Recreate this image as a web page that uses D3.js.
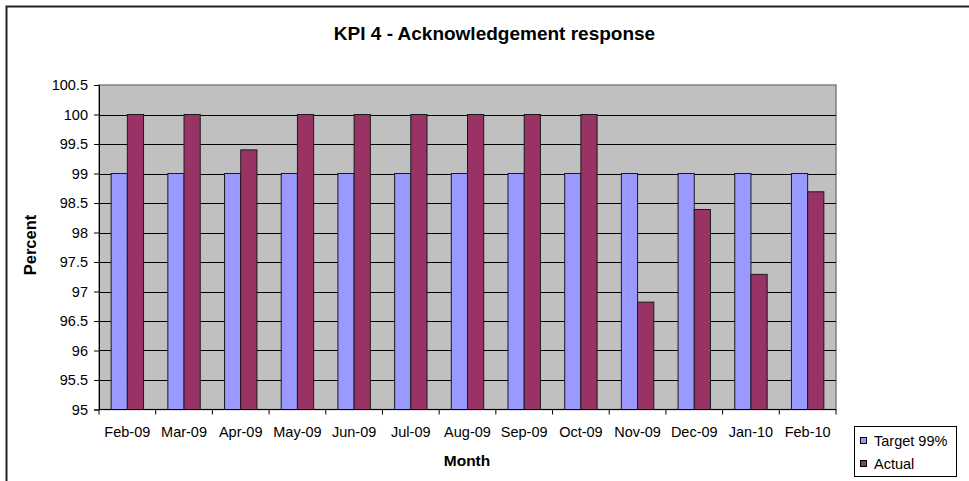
<!DOCTYPE html>
<html>
<head>
<meta charset="utf-8">
<script src="https://cdn.jsdelivr.net/npm/d3@7"></script>
<style>
  html, body { margin: 0; padding: 0; background: #fff; }
  svg { display: block; font-family: Arial, "Liberation Sans", sans-serif; }
</style>
</head>
<body>
<svg id="chart" width="969" height="481"></svg>
<script>
const categories = ["Feb-09","Mar-09","Apr-09","May-09","Jun-09","Jul-09","Aug-09","Sep-09","Oct-09","Nov-09","Dec-09","Jan-10","Feb-10"];
const seriesNames = ["Target 99%", "Actual"];
const targetValues = [99,99,99,99,99,99,99,99,99,99,99,99,99];
const actualValues = [100,100,99.4,100,100,100,100,100,100,96.82,98.39,97.29,98.69];
const yTicks = [95,95.5,96,96.5,97,97.5,98,98.5,99,99.5,100,100.5];
const colors = ["#9999FF", "#993366"];

const svg = d3.select("#chart");
const W = 969, H = 481;
const plot = {left: 99, right: 836, top: 85, bottom: 409.5};

// outer frame
svg.append("rect").attr("x", 6.5).attr("y", 6.5).attr("width", W + 10).attr("height", H + 10)
  .attr("fill", "#fff").attr("stroke", "#222").attr("stroke-width", 2);

// title
svg.append("text").attr("x", 494.5).attr("y", 40).attr("text-anchor", "middle")
  .attr("font-size", 19).attr("font-weight", "bold").text("KPI 4 - Acknowledgement response");

const x0 = d3.scaleBand().domain(categories).range([plot.left, plot.right]).padding(0);
const bw = x0.bandwidth() / 3.5;
const x1 = d3.scaleBand().domain(seriesNames).range([0.75 * bw, 2.75 * bw]).padding(0);
const y = d3.scaleLinear().domain([95, 100.5]).range([plot.bottom, plot.top]);

// plot background
svg.append("rect").attr("x", plot.left).attr("y", plot.top)
  .attr("width", plot.right - plot.left).attr("height", plot.bottom - plot.top)
  .attr("fill", "#C0C0C0").attr("stroke", "#808080").attr("stroke-width", 1.5);

// gridlines
svg.append("g").selectAll("line").data(yTicks.filter(t => t > 95 && t < 100.5)).join("line")
  .attr("x1", plot.left).attr("x2", plot.right)
  .attr("y1", d => Math.round(y(d)) + 0.5).attr("y2", d => Math.round(y(d)) + 0.5)
  .attr("stroke", "#000").attr("stroke-width", 1);

// bars
const data = categories.map((c, i) => ({cat: c, vals: [targetValues[i], actualValues[i]]}));
const groups = svg.append("g").selectAll("g").data(data).join("g")
  .attr("transform", d => `translate(${x0(d.cat)},0)`);
groups.selectAll("rect").data(d => d.vals.map((v, j) => ({name: seriesNames[j], v, j}))).join("rect")
  .attr("x", d => x1(d.name))
  .attr("y", d => y(d.v))
  .attr("width", x1.bandwidth())
  .attr("height", d => y(95) - y(d.v))
  .attr("fill", d => colors[d.j])
  .attr("stroke", "#1a1a1a").attr("stroke-width", 1);

// y axis
const yAxis = d3.axisLeft(y).tickValues(yTicks).tickSize(5).tickPadding(6)
  .tickFormat(d => String(d));
const gy = svg.append("g").attr("transform", `translate(${plot.left},0)`).call(yAxis);
gy.select(".domain").attr("stroke", "#000");
gy.selectAll(".tick line").attr("stroke", "#000");
gy.selectAll("text").attr("font-size", 14.5).attr("fill", "#000")
  .attr("font-family", "Arial, 'Liberation Sans', sans-serif");

// x axis
const gx = svg.append("g").attr("transform", `translate(0,${plot.bottom})`);
gx.append("line").attr("x1", plot.left).attr("x2", plot.right).attr("y1", 0).attr("y2", 0)
  .attr("stroke", "#000");
const bounds = categories.map(c => x0(c)).concat([plot.right]);
gx.selectAll("line.tk").data(bounds).join("line").attr("class", "tk")
  .attr("x1", d => d).attr("x2", d => d).attr("y1", 0).attr("y2", 5).attr("stroke", "#000");
gx.selectAll("text").data(categories).join("text")
  .attr("x", d => x0(d) + x0.bandwidth() / 2).attr("y", 27.5)
  .attr("text-anchor", "middle").attr("font-size", 14.5).text(d => d);

// axis titles
svg.append("text").attr("x", 467).attr("y", 466).attr("text-anchor", "middle")
  .attr("font-size", 15.5).attr("font-weight", "bold").text("Month");
svg.append("text").attr("transform", "translate(36,245) rotate(-90)").attr("text-anchor", "middle")
  .attr("font-size", 16.5).attr("font-weight", "bold").text("Percent");

// legend
const lg = svg.append("g");
lg.append("rect").attr("x", 854.5).attr("y", 426.5).attr("width", 102).attr("height", 50)
  .attr("fill", "#fff").attr("stroke", "#000").attr("stroke-width", 1);
seriesNames.forEach((n, i) => {
  const yy = 446 + i * 23;
  lg.append("rect").attr("x", 860.5).attr("y", yy - 8.5).attr("width", 6).attr("height", 6)
    .attr("fill", colors[i]).attr("stroke", "#000").attr("stroke-width", 1);
  lg.append("text").attr("x", 874).attr("y", yy).attr("font-size", 14.5).text(n);
});
</script>
</body>
</html>
